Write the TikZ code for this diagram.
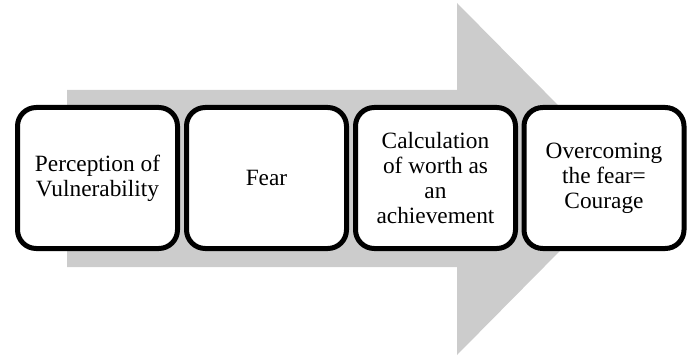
\documentclass[tikz,border=0pt]{standalone}
\usepackage{fontspec}
\setmainfont{Liberation Serif}
\definecolor{arrowgray}{RGB}{204,204,204}
\begin{document}
\begin{tikzpicture}[x=0.75pt,y=-0.75pt,
  stage/.style={draw=black, fill=white, line width=3.75pt, rounded corners=14pt,
    minimum width=120pt, minimum height=105.75pt, inner sep=0pt,
    align=center, font=\fontsize{17.5}{18.75}\selectfont}]
\useasboundingbox (0,0) rectangle (689,356);
\fill[arrowgray] (67,90) -- (457,90) -- (457,3) -- (631,179) -- (457,355) -- (457,267) -- (67,267) -- cycle;
\node[stage] (b1) at (97.5,178) {Perception of\\Vulnerability};
\node[stage] (b2) at (266.5,178) {Fear};
\node[stage] (b3) at (435.5,178) {Calculation\\of worth as\\an\\achievement};
\node[stage] (b4) at (604,178) {Overcoming\\the fear=\\Courage};
\end{tikzpicture}
\end{document}
